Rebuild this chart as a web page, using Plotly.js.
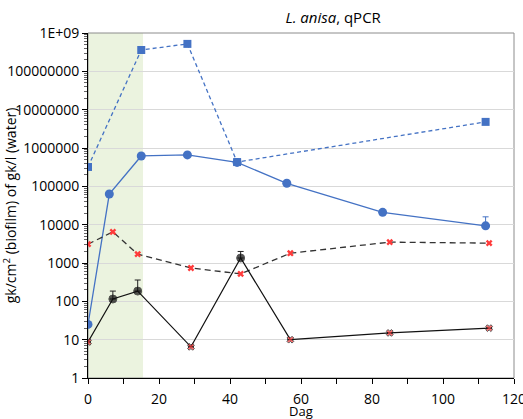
<!DOCTYPE html>
<html>
<head>
<meta charset="utf-8">
<script src="https://cdn.plot.ly/plotly-3.0.1.min.js"></script>
<style>html,body{margin:0;padding:0;background:#fff;}#chart{width:523px;height:419px;}</style>
</head>
<body>
<div id="chart"></div>
<script>
// ---- data ----
const blueSquareDays = [0, 15, 28, 42, 112];
const blueSquareValues = [320000, 360000000, 520000000, 430000, 4800000];

const blueCircleDays = [0, 6, 15, 28, 42, 56, 83, 112];
const blueCircleValues = [25, 63000, 620000, 660000, 420000, 120000, 21000, 9300];
const blueCircleErrUp = [0, 0, 0, 0, 0, 0, 0, 6700];

const dashedDays = [0, 7, 14, 29, 43, 57, 85, 113];
const dashedValues = [3100, 6500, 1700, 740, 520, 1800, 3500, 3300];

const blackDays = [0, 7, 14, 29, 43, 57, 85, 113];
const blackValues = [8.7, 115, 185, 6.5, 1350, 10, 15, 20];
const blackErrUp = [0, 70, 175, 0, 650, 0, 0, 0];
const blackBelowLimit = [true, false, false, true, false, true, true, true];

const shadedDays = [0, 15.5];

const yTickVals = [1, 10, 100, 1000, 10000, 100000, 1000000, 10000000, 100000000, 1000000000];
const yTickText = ["1", "10", "100", "1000", "10000", "100000", "1000000", "10000000", "100000000", "1E+09"];

const titleText = "<i>L. anisa</i>, qPCR";
const xTitle = "Dag";
const yTitle = "gk/cm<sup>2</sup> (biofilm) of gk/l (water)";

// ---- styles ----
const BLUE = "#4472C4";
const RED = "#ff3b3b";
const FONT = "Open Sans, Liberation Sans, sans-serif";
const zeros = a => a.map(() => 0);

const traces = [
  {
    x: blueSquareDays, y: blueSquareValues, type: "scatter", mode: "lines+markers",
    line: {color: BLUE, width: 1.3, dash: "4px,3px"},
    marker: {symbol: "square", size: 8, color: BLUE}
  },
  {
    x: blueCircleDays, y: blueCircleValues, type: "scatter", mode: "lines+markers",
    line: {color: BLUE, width: 1.3},
    marker: {symbol: "circle", size: 9, color: BLUE},
    error_y: {type: "data", symmetric: false, array: blueCircleErrUp, arrayminus: zeros(blueCircleErrUp),
              color: BLUE, thickness: 1, width: 3}
  },
  {
    x: dashedDays, y: dashedValues, type: "scatter", mode: "lines+markers",
    line: {color: "#333333", width: 1.3, dash: "6px,4px"},
    marker: {symbol: "x", size: 6, color: RED}
  },
  {
    x: blackDays, y: blackValues, type: "scatter", mode: "lines+markers",
    line: {color: "#111111", width: 1.2},
    marker: {
      symbol: blackBelowLimit.map(b => b ? "x" : "circle"),
      size: blackBelowLimit.map(b => b ? 6 : 8),
      color: blackBelowLimit.map(b => b ? RED : "#0d0d0d")
    },
    error_y: {type: "data", symmetric: false, array: blackErrUp, arrayminus: zeros(blackErrUp),
              color: "#222222", thickness: 1, width: 3}
  }
];

const layout = {
  width: 523, height: 419,
  margin: {l: 88, r: 9, t: 33, b: 41},
  paper_bgcolor: "#ffffff", plot_bgcolor: "rgba(0,0,0,0)",
  showlegend: false,
  font: {family: FONT, color: "#000", size: 14},
  title: {text: titleText, font: {family: FONT, size: 15, color: "#000"},
          x: 0.637, xref: "container", xanchor: "center", y: 0.957, yref: "container", yanchor: "middle"},
  xaxis: {
    range: [0, 120], dtick: 20, tick0: 0,
    showgrid: false, zeroline: false,
    showline: true, linecolor: "#000", linewidth: 1,
    ticks: "outside", ticklen: 5, tickcolor: "#000",
    minor: {dtick: 10, ticks: "outside", ticklen: 5, tickcolor: "#000", showgrid: false},
    tickfont: {size: 14},
    ticklabelstandoff: 3,
    ticklabeloverflow: "allow",
    automargin: false
  },
  yaxis: {
    type: "log", range: [0, 9],
    tickmode: "array", tickvals: yTickVals, ticktext: yTickText,
    showgrid: true, gridcolor: "#d9d9d9", gridwidth: 1,
    zeroline: false,
    showline: true, linecolor: "#000", linewidth: 1,
    ticks: "outside", ticklen: 5, tickcolor: "#000",
    minor: {dtick: "D1", ticks: "outside", ticklen: 3, tickcolor: "#666", showgrid: false},
    tickfont: {size: 14},
    title: {text: yTitle, font: {size: 14}, standoff: 6}
  },
  annotations: [
    {text: xTitle, xref: "paper", yref: "paper", x: 0.5, y: -(411 - 378) / 345,
     xanchor: "center", yanchor: "middle", showarrow: false, font: {size: 13}}
  ],
  shapes: [
    {type: "rect", xref: "x", yref: "paper", x0: shadedDays[0], x1: shadedDays[1], y0: 0, y1: 1,
     fillcolor: "#ebf3df", line: {width: 0}, layer: "below"},
    {type: "rect", xref: "paper", yref: "paper", x0: 0, x1: 1, y0: 0, y1: 1,
     fillcolor: "rgba(0,0,0,0)", line: {color: "#8c8c8c", width: 1}, layer: "below"}
  ]
};

Plotly.newPlot("chart", traces, layout, {displayModeBar: false, staticPlot: true});
</script>
</body>
</html>
